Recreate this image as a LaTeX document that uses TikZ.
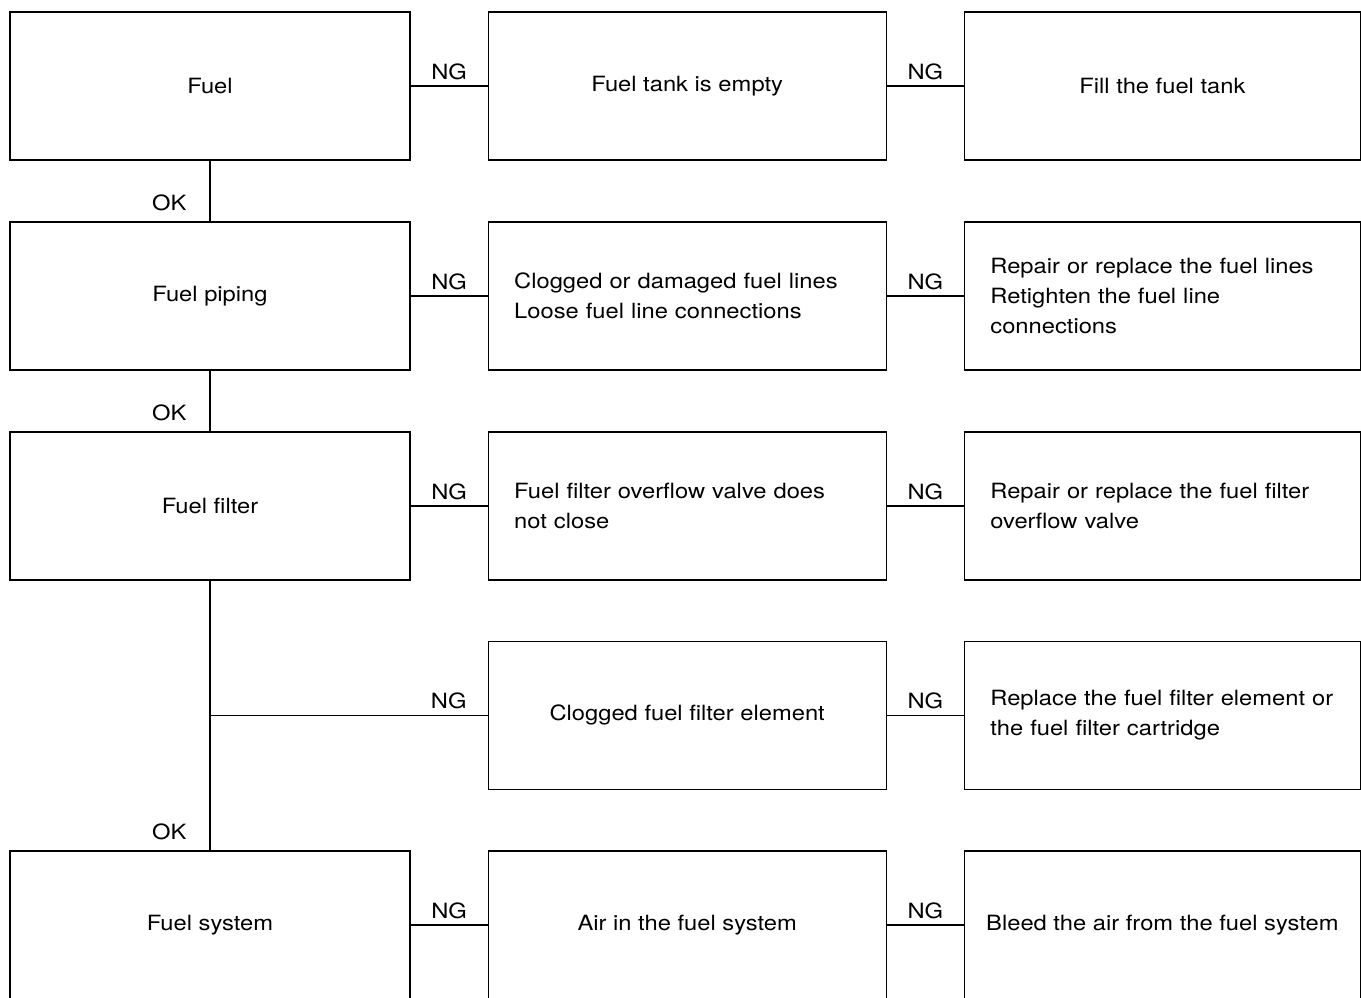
\documentclass[tikz,border=0pt]{standalone}
\usepackage{fontspec}
\setmainfont[FakeStretch=1.13]{TeX Gyre Heros}
\usetikzlibrary{positioning}

\begin{document}
\begin{tikzpicture}[x=1pt,y=-1pt,line width=1.2pt,node distance=77pt,
                    font=\fontsize{21}{30}\selectfont]
  \tikzstyle{box}=[draw,minimum height=148pt,align=center]
  \tikzstyle{check}=[box,minimum width=400pt]
  \tikzstyle{cause}=[box,minimum width=398pt]
  \tikzstyle{remedy}=[box,minimum width=396pt]
  \tikzstyle{causelist}=[box,text width=346pt,inner xsep=26pt,align=left]
  \tikzstyle{remedylist}=[box,text width=344pt,inner xsep=26pt,align=left]
  \tikzstyle{ng}=[above,inner sep=0pt,yshift=6pt]
  \tikzstyle{ok}=[pos=1,anchor=south east,inner sep=0pt,xshift=-23pt,yshift=10pt]

  \path[use as bounding box,clip] (0,0) rectangle (1361,998);

  \node[check]  (F)  at (210,86)   {Fuel};
  \node[cause]  (FN) [right=of F]  {Fuel tank is empty};
  \node[remedy] (FR) [right=of FN] {Fill the fuel tank};

  \node[check]      (P)  at (210,296)  {Fuel piping};
  \node[causelist]  (PN) [right=of P]  {Clogged or damaged fuel lines\\Loose fuel line connections};
  \node[remedylist] (PR) [right=of PN] {Repair or replace the fuel lines\\Retighten the fuel line\\connections};

  \node[check]      (V)  at (210,506)  {Fuel filter};
  \node[causelist]  (VN) [right=of V]  {Fuel filter overflow valve does\\not close};
  \node[remedylist] (VR) [right=of VN] {Repair or replace the fuel filter\\overflow valve};

  \node[cause]      (EN) [below=60pt of VN] {Clogged fuel filter element};
  \node[remedylist] (ER) [right=of EN]      {Replace the fuel filter element or\\the fuel filter cartridge};
  \coordinate (B) at (V.south |- EN.west);

  \node[check]  (S)  at (210,925)  {Fuel system};
  \node[cause]  (SN) [right=of S]  {Air in the fuel system};
  \node[remedy] (SR) [right=of SN] {Bleed the air from the fuel system};

  \path (F)  edge node[ng] {NG} (FN)
        (FN) edge node[ng] {NG} (FR)
        (F)  edge node[ok] {OK} (P)
        (P)  edge node[ng] {NG} (PN)
        (PN) edge node[ng] {NG} (PR)
        (P)  edge node[ok] {OK} (V)
        (V)  edge node[ng] {NG} (VN)
        (VN) edge node[ng] {NG} (VR)
        (V)  edge node[ok] {OK} (S)
        (B)  edge node[ng,pos=0.86] {NG} (EN)
        (EN) edge node[ng] {NG} (ER)
        (S)  edge node[ng] {NG} (SN)
        (SN) edge node[ng] {NG} (SR);
\end{tikzpicture}
\end{document}
